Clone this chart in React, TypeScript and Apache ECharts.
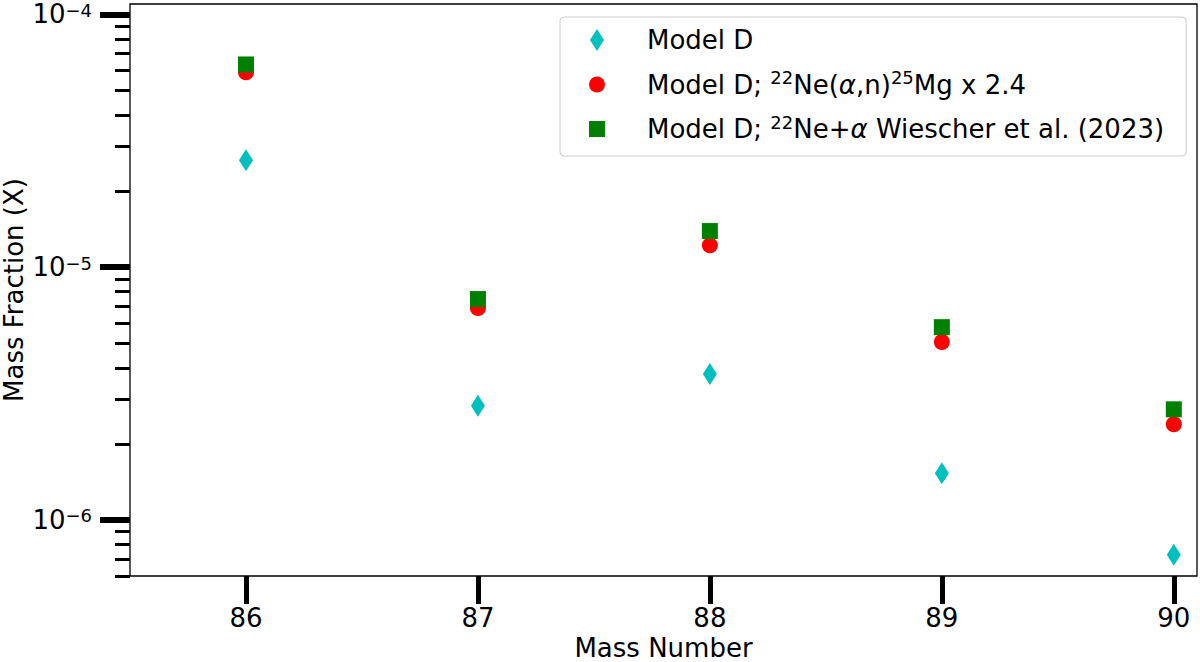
import React, { useEffect, useRef } from 'react';
import * as echarts from 'echarts';

const massNumbers = [86, 87, 88, 89, 90];
const modelD = [2.65e-5, 2.83e-6, 3.78e-6, 1.53e-6, 7.28e-7];
const modelDNeAlphaN = [5.9e-5, 6.89e-6, 1.22e-5, 5.06e-6, 2.39e-6];
const modelDWiescher = [6.34e-5, 7.48e-6, 1.39e-5, 5.79e-6, 2.74e-6];

const xTicks = [86, 87, 88, 89, 90];
const majorYTicks = [1e-6, 1e-5, 1e-4];
const minorYTicks = [
  6e-7, 7e-7, 8e-7, 9e-7,
  2e-6, 3e-6, 4e-6, 5e-6, 6e-6, 7e-6, 8e-6, 9e-6,
  2e-5, 3e-5, 4e-5, 5e-5, 6e-5, 7e-5, 8e-5, 9e-5,
];

const seriesNames = [
  'Model D',
  'Model D; 22Ne(α,n)25Mg x 2.4',
  'Model D; 22Ne+α Wiescher et al. (2023)',
];
const legendRich = [
  '{t|Model D}',
  '{t|Model D; }{s|22}{t|Ne(}{g|α}{t|,n)}{s|25}{t|Mg x 2.4}',
  '{t|Model D; }{s|22}{t|Ne+}{g|α}{t| Wiescher et al. (2023)}',
];

const FONT = 'DejaVu Sans';

export default function App() {
  const ref = useRef<HTMLDivElement>(null);
  useEffect(() => {
    if (!ref.current) return;
    const chart = echarts.init(ref.current, undefined, { renderer: 'svg' });
    const toData = (vals: number[]) => massNumbers.map((m, i) => [m, vals[i]]);
    chart.setOption({
      animation: false,
      backgroundColor: '#fff',
      textStyle: { fontFamily: FONT },
      grid: {
        left: 130,
        top: 4,
        right: 3,
        bottom: 86,
        containLabel: false,
        outerBoundsMode: 'none',
        show: true,
        borderColor: '#000',
        borderWidth: 1.3,
        backgroundColor: 'transparent',
      },
      xAxis: {
        type: 'value',
        min: 85.5,
        max: 90.1,
        splitLine: { show: false },
        axisLine: { show: false },
        axisTick: {
          customValues: xTicks,
          length: 28,
          lineStyle: { width: 5, color: '#000' },
        },
        axisLabel: {
          customValues: xTicks,
          fontSize: 26,
          lineHeight: 26,
          margin: 29,
          color: '#000',
          fontFamily: FONT,
        },
        name: 'Mass Number',
        nameLocation: 'middle',
        nameGap: 59,
        nameMoveOverlap: false,
        nameTextStyle: { fontSize: 26, lineHeight: 26, color: '#000', fontFamily: FONT },
      },
      yAxis: [
        {
          type: 'log',
          logBase: 10,
          min: 6e-7,
          max: 1.1e-4,
          splitLine: { show: false },
          axisLine: { show: false },
          axisTick: {
            customValues: majorYTicks,
            length: 30,
            lineStyle: { width: 6, color: '#000' },
          },
          axisLabel: {
            customValues: majorYTicks,
            margin: 38,
            color: '#000',
            formatter: (v: number) => `{b|10}{s|−${Math.round(-Math.log10(v))}}`,
            rich: {
              b: { fontSize: 26, fontFamily: FONT, color: '#000', lineHeight: 26 },
              s: { fontSize: 18, fontFamily: FONT, color: '#000', lineHeight: 18, verticalAlign: 'top' },
            },
          },
          name: 'Mass Fraction (X)',
          nameLocation: 'middle',
          nameGap: 103,
          nameMoveOverlap: false,
          nameTextStyle: { fontSize: 26, color: '#000', fontFamily: FONT },
        },
        {
          type: 'log',
          logBase: 10,
          min: 6e-7,
          max: 1.1e-4,
          position: 'left',
          splitLine: { show: false },
          axisLine: { show: false },
          axisLabel: { show: false },
          axisTick: {
            customValues: minorYTicks,
            length: 15,
            lineStyle: { width: 3, color: '#000' },
          },
        },
      ],
      legend: {
        orient: 'vertical',
        left: 560,
        top: 17,
        backgroundColor: '#fff',
        borderColor: '#ccc',
        borderWidth: 1,
        borderRadius: 4,
        padding: [10, 22, 14, 29],
        itemGap: 15.5,
        itemWidth: 16,
        itemHeight: 22,
        data: [
          { name: seriesNames[0], icon: 'path://M7,0L14,11L7,22L0,11Z' },
          { name: seriesNames[1], icon: 'path://M8,0A8,8,0,1,1,8,16A8,8,0,1,1,8,0Z' },
          { name: seriesNames[2], icon: 'path://M0,0L16,0L16,16L0,16Z' },
        ],
        formatter: (name: string) => legendRich[seriesNames.indexOf(name)],
        textStyle: {
          padding: [0, 0, 0, 37],
          rich: {
            t: { fontSize: 26, fontFamily: FONT, color: '#000', lineHeight: 32 },
            g: { fontSize: 26, fontFamily: FONT, color: '#000', lineHeight: 32, fontStyle: 'italic' },
            s: { fontSize: 18, fontFamily: FONT, color: '#000', lineHeight: 18, verticalAlign: 'top' },
          },
        },
      },
      series: [
        {
          name: seriesNames[0],
          type: 'scatter',
          symbol: 'diamond',
          symbolSize: [14, 22],
          itemStyle: { color: '#00BFBF', opacity: 1 },
          data: toData(modelD),
        },
        {
          name: seriesNames[1],
          type: 'scatter',
          symbol: 'circle',
          symbolSize: 16,
          itemStyle: { color: '#FF0000', opacity: 1 },
          data: toData(modelDNeAlphaN),
        },
        {
          name: seriesNames[2],
          type: 'scatter',
          symbol: 'rect',
          symbolSize: 16,
          itemStyle: { color: '#008000', opacity: 1 },
          data: toData(modelDWiescher),
        },
      ],
    });
    return () => chart.dispose();
  }, []);
  return (
    <div
      ref={ref}
      style={{ position: 'fixed', left: 0, top: 0, width: 1200, height: 662 }}
    />
  );
}
